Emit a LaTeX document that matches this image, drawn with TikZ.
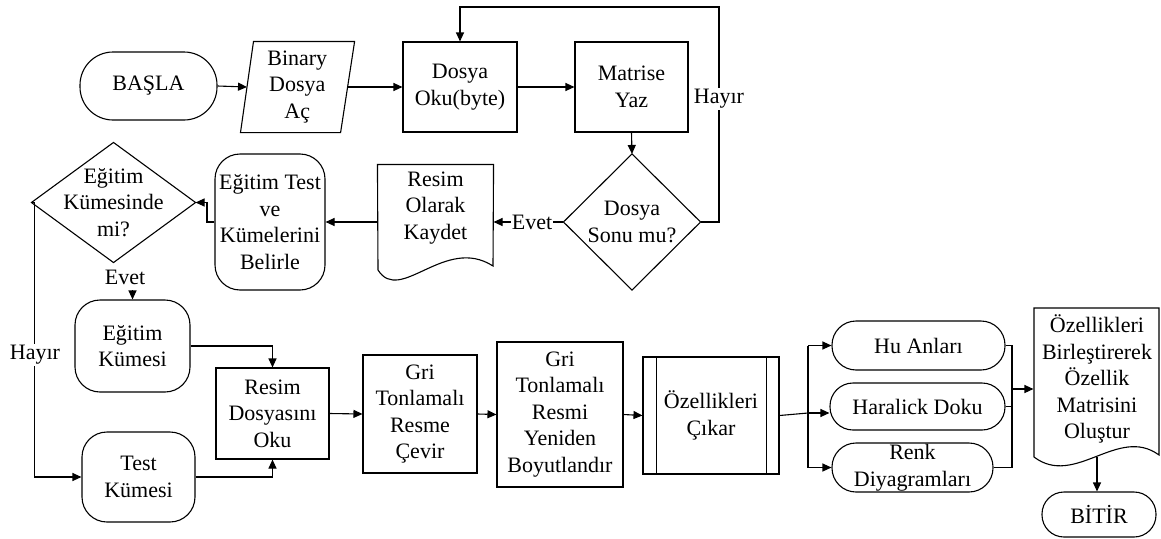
\documentclass[tikz,border=0pt]{standalone}
\usepackage{fontspec}
\setmainfont{Liberation Serif}
\usetikzlibrary{arrows.meta}
\newcommand{\fsz}{\fontsize{22}{26.5}\selectfont}
\tikzset{
  base/.style={font=\fsz, align=center, inner sep=1pt, line width=1.1pt},
  inv/.style={base},
  proc/.style={base, draw, rectangle},
  rbox/.style={base, draw, rectangle, rounded corners=25pt},
  frame/.style={line width=1.1pt},
  arr/.style={-{Triangle[length=9pt,width=8pt]}, line width=1.1pt},
  ln/.style={line width=1.1pt},
  lbl/.style={font=\fsz, fill=white, inner sep=1pt},
  plain/.style={font=\fsz, inner sep=1pt}
}
\begin{document}
\begin{tikzpicture}[x=1pt,y=-1pt]
\useasboundingbox (0,0) rectangle (1161,538);

% top row
\node[rbox, rounded corners=33pt, minimum width=137, minimum height=68] (basla) at (148.5,86) {BAŞLA};
\node[inv, minimum width=99.5, minimum height=90] (bin) at (297.3,87) {Binary\\Dosya\\Aç};
\draw[frame] ([xshift=6.5pt]bin.north west) -- ([xshift=7pt]bin.north east) -- ([xshift=-7pt]bin.south east) -- ([xshift=-6.5pt]bin.south west) -- cycle;
\node[proc, minimum width=114, minimum height=90] (oku) at (460,87) {Dosya\\Oku(byte)};
\node[proc, minimum width=113, minimum height=90] (mat) at (631.5,87) {Matrise\\Yaz};

\node[inv, minimum width=136, minimum height=135] (d1) at (632,222) {Dosya\\Sonu mu?};
\draw[frame] (d1.north) -- (d1.east) -- (d1.south) -- (d1.west) -- cycle;

\node[inv, minimum width=115, minimum height=114] (doc1) at (435.5,222) {};
\draw[frame] (doc1.north west) -- (doc1.north east) -- (493,266) .. controls (445,235) and (400,305) .. (378,270) -- cycle;
\node[plain, align=center] (doc1t) at (435.5,208) {Resim\\Olarak\\Kaydet};

\node[rbox, minimum width=110, minimum height=136] (egt) at (270,222) {Eğitim Test\\ve\\Kümelerini\\Belirle};

\node[inv, minimum width=163, minimum height=119] (d2) at (113.5,202.5) {Eğitim\\Kümesinde\\mi?};
\draw[frame] (d2.north) -- (d2.east) -- (d2.south) -- (d2.west) -- cycle;

% lower part
\node[rbox, minimum width=115, minimum height=92] (egk) at (132.5,346) {Eğitim\\Kümesi};
\node[rbox, minimum width=113, minimum height=90] (testk) at (138.5,477) {Test\\Kümesi};
\node[proc, minimum width=113, minimum height=91] (roku) at (272.5,413.5) {Resim\\Dosyasını\\Oku};
\node[proc, minimum width=114, minimum height=118] (gri1) at (420,414) {Gri\\Tonlamalı\\Resme\\Çevir};
\node[proc, minimum width=126, minimum height=145] (gri2) at (560,414.5) {Gri\\Tonlamalı\\Resmi\\Yeniden\\Boyutlandır};
\node[proc, minimum width=136, minimum height=117] (ozc) at (711,415.5) {Özellikleri\\Çıkar};
\draw[ln] ([xshift=14pt]ozc.north west) -- ([xshift=14pt]ozc.south west);
\draw[ln] ([xshift=-13pt]ozc.north east) -- ([xshift=-13pt]ozc.south east);

\node[rbox, rounded corners=24pt, minimum width=173, minimum height=49] (hu) at (918.5,345.5) {Hu Anları};
\node[rbox, rounded corners=23pt, minimum width=175, minimum height=47] (har) at (917.5,406.5) {Haralick Doku};
\node[rbox, rounded corners=24pt, minimum width=161, minimum height=49] (renk) at (912.5,467.5) {};
\node[plain, align=center] (renkt) at (912.5,467.5) {Renk\\Diyagramları};

\node[inv, minimum width=125, minimum height=150] (doc2) at (1096.5,383) {};
\draw[frame] (1034,308) -- (1159,308) -- (1159,455) .. controls (1118,425) and (1075,488) .. (1034,457) -- cycle;
\node[plain, align=center] (doc2t) at (1097,379) {Özellikleri\\Birleştirerek\\Özellik\\Matrisini\\Oluştur};

\node[rbox, rounded corners=22pt, minimum width=114, minimum height=45] (bitir) at (1099,514.5) {BİTİR};

% connectors top
\draw[arr] (basla.east) -- (bin.west);
\draw[arr] (bin.east) -- (oku.west);
\draw[arr] (oku.east) -- (mat.west);
\draw[arr] (mat.south) -- (d1.north);
\coordinate (lr) at (719,7);
\draw[arr] (d1.east) -| (lr) -| (oku.north);
\node[lbl] (hayir1) at (719,99) {Hayır};
\draw[arr] (d1.west) -- (doc1.east);
\node[lbl] (evet1) at (532,222) {Evet};
\draw[arr] (doc1.west) -- (egt.east);
\coordinate (jt) at (207,222);
\draw[arr] (egt.west) -- (jt) |- (d2.east);

% decision branches
\node[plain] (evet2) at (125,277) {Evet};
\coordinate (ea) at (132.5,290);
\draw[arr] (ea) -- (egk.north);
\draw[arr] (d2.west) -- ++(3,0) |- (testk.west);
\node[lbl] (hayir2) at (35,355) {Hayır};

\draw[arr] (egk.east) -| (roku.north);
\draw[arr] (testk.east) -| (roku.south);
\draw[arr] (roku.east) -- (gri1.west);
\draw[arr] (gri1.east) -- (gri2.west);
\draw[arr] (gri2.east) -- (ozc.west);

% branch to features
\coordinate (br) at (808,413);
\draw[ln] (ozc.east) -- (br);
\draw[ln] (br |- hu.west) -- (br |- renk.west);
\draw[arr] (br |- hu.west) -- (hu.west);
\draw[arr] (br) -- (br -| har.west);
\draw[arr] (br |- renk.west) -- (renk.west);

% merge
\coordinate (mg) at (1012,389);
\draw[ln] (hu.east) -| (mg);
\draw[ln] (har.east) -| (mg);
\draw[ln] (renk.east) -| (mg);
\draw[arr] (mg) -- (mg -| doc2.west);

\coordinate (doc2b) at (1097,457);
\draw[arr] (doc2b) -- (doc2b |- bitir.north);
\end{tikzpicture}
\end{document}
